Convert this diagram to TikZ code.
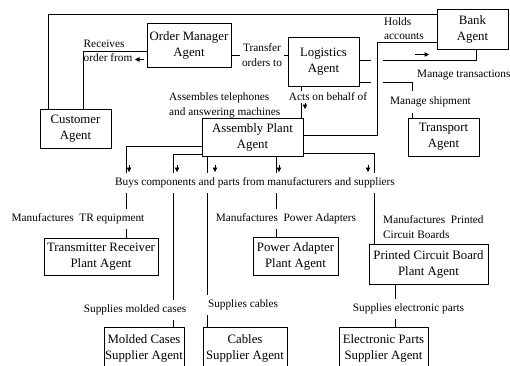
\documentclass[tikz,border=0pt]{standalone}
\usepackage{fontspec}
\setmainfont{Liberation Serif}
\usetikzlibrary{arrows.meta}
\begin{document}
\begin{tikzpicture}[x=1pt,y=-1pt,
  agent/.style={draw, line width=0.8pt, inner sep=0pt, align=center,
    font=\fontsize{12.8}{16}\selectfont},
  lbl/.style={inner sep=0pt, font=\fontsize{11.3}{14.5}\selectfont},
  lblw/.style={lbl, fill=white, inner xsep=2pt, inner ysep=5pt},
  conn/.style={line width=0.8pt},
  gapmask/.style={white, line width=4pt},
  dirtip/.style={line width=0.8pt, -{Triangle[length=4.5pt,width=4.5pt]}},
]
\useasboundingbox (0,0) rectangle (510,365);
\clip (0,0) rectangle (510,365);

% agents
\node[agent, minimum width=71pt, minimum height=39pt] (cust) at (75.5,128.5) {Customer\\Agent};
\node[agent, minimum width=84pt, minimum height=44pt] (om) at (189,45) {Order Manager\\Agent};
\node[agent, minimum width=71pt, minimum height=49pt] (log) at (323.5,61.5) {Logistics\\Agent};
\node[agent, minimum width=71pt, minimum height=40pt] (bank) at (472.5,29) {Bank\\Agent};
\node[agent, minimum width=101pt, minimum height=38pt] (asm) at (252.5,137) {Assembly Plant\\Agent};
\node[agent, minimum width=71pt, minimum height=38pt] (trans) at (443.5,137) {Transport\\Agent};
\node[agent, minimum width=114pt, minimum height=37pt] (tr) at (101,256.5) {Transmitter Receiver\\Plant Agent};
\node[agent, minimum width=85pt, minimum height=38pt] (pa) at (295.5,256) {Power Adapter\\Plant Agent};
\node[agent, minimum width=119pt, minimum height=40pt] (pcb) at (428.5,264) {Printed Circuit Board\\Plant Agent};
\node[agent, minimum width=80pt, minimum height=42pt] (mc) at (144,348) {Molded Cases\\Supplier Agent};
\node[agent, minimum width=84pt, minimum height=42pt] (cab) at (245,348) {Cables\\Supplier Agent};
\node[agent, minimum width=89pt, minimum height=42pt] (ep) at (383.5,348) {Electronic Parts\\Supplier Agent};

% connectors
\draw[conn] (cust.north -| 48,0) |- (bank.west |- 0,14);
\draw[conn] (cust.north -| 83,0) |- (om.west |- 0,51);
\draw[conn] (om.east |- 0,55) -- (log.west |- 0,55);
\draw[conn] (log.east |- 0,60) -| (bank.south -| 476,0);
\draw[conn] (log.east |- 0,82) -| (trans.north -| 412,0);
\coordinate (gA) at (371,60); \coordinate (gB) at (383,60);
\coordinate (gC) at (371,82); \coordinate (gD) at (383,82);
\draw[gapmask] (gA) -- (gB);
\draw[gapmask] (gC) -- (gD);
\coordinate (hcorner) at (377,135);
\draw[conn] (bank.west |- 0,42) -| (hcorner) -- (asm.east |- hcorner);
\draw[conn] (log.south -| 301,0) -- (asm.north -| 301,0);
\draw[conn] (asm.west |- 0,146) -| (tr.north -| 126,0);
\draw[conn] (asm.west |- 0,154) -| (mc.north -| 173,0);
\draw[conn] (asm.south -| 207,0) -- (cab.north -| 207,0);
\draw[conn] (asm.south -| 276,0) -- (pa.north -| 276,0);
\draw[conn] (asm.east |- 0,153) -| (pcb.north -| 374,0);
\draw[conn] (pcb.south -| 395,0) -- (ep.north -| 395,0);

% direction marks
\draw[dirtip] (144,59.5) -- (135,59.5);
\draw[dirtip] (415,54.5) -- (429,54.5);
\draw[dirtip] (305,101) -- (305,109);
\foreach \xx in {129,177,215,279,368}
  \draw[dirtip] (\xx,164.5) -- (\xx,172);

% labels
\node[lbl, anchor=west, align=left] (lrec) at (83.5,51) {Receives\\order from};
\node[lblw, align=center, inner ysep=1pt] (ltr) at (262,55) {Transfer\\orders to};
\node[lbl, anchor=west, align=left] (lhold) at (384,28.5) {Holds\\accounts};
\node[lbl, anchor=west] (lmt) at (417,75) {Manage transactions};
\node[lblw, inner ysep=6pt] (lms) at (430.5,102) {Manage shipment};
\node[lblw, inner ysep=2pt] (lacts) at (328,97) {Acts on behalf of};
\node[lbl, anchor=west, align=left] (lasm) at (169,105.5) {Assembles telephones\\and answering machines};
\node[lblw] (lbuys) at (255,183) {Buys components and parts from manufacturers and suppliers};
\node[lblw] (lmtr) at (78,219) {Manufactures\ \ TR equipment};
\node[lblw] (lmpa) at (286,219) {Manufactures\ \ Power Adapters};
\node[lbl, anchor=west, align=left] (lmpcb) at (383,227) {Manufactures\ \ Printed\\Circuit Boards};
\node[lblw] (lsmc) at (135,310) {Supplies molded cases};
\node[lblw, inner xsep=3pt] (lscab) at (243,305) {Supplies cables};
\node[lblw] (lsep) at (408.5,309) {Supplies electronic parts};
\end{tikzpicture}
\end{document}
